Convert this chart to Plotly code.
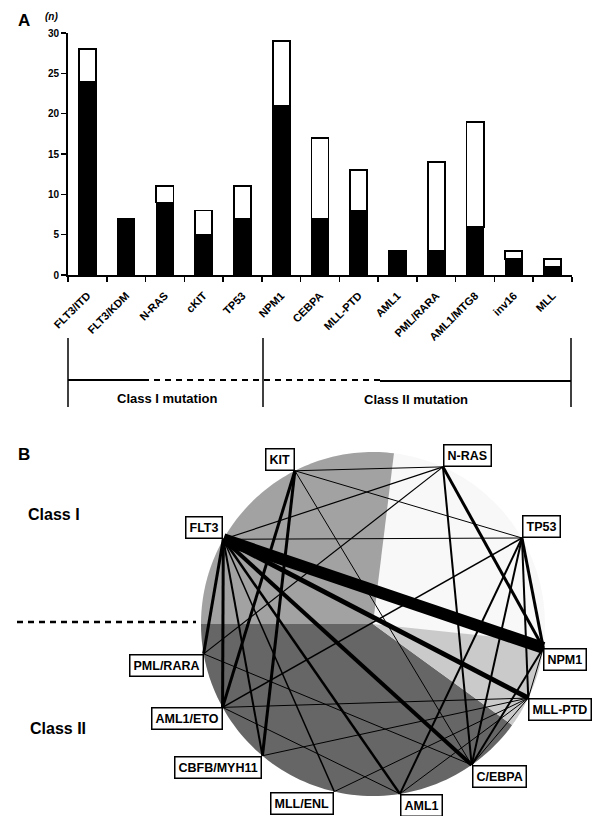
import math
import plotly.graph_objects as go

# ---------------- Panel A data ----------------
categories = ["FLT3/ITD", "FLT3/KDM", "N-RAS", "cKIT", "TP53", "NPM1", "CEBPA",
              "MLL-PTD", "AML1", "PML/RARA", "AML1/MTG8", "inv16", "MLL"]
total_counts = [28, 7, 11, 8, 11, 29, 17, 13, 3, 14, 19, 3, 2]
black_counts = [24, 7, 9, 5, 7, 21, 7, 8, 3, 3, 6, 2, 1]
white_counts = [t - b for t, b in zip(total_counts, black_counts)]
y_ticks = [0, 5, 10, 15, 20, 25, 30]
group_labels = ["Class I mutation", "Class II mutation"]

# ---------------- Panel B data ----------------
node_names = ["KIT", "N-RAS", "TP53", "NPM1", "MLL-PTD", "C/EBPA", "AML1",
              "MLL/ENL", "CBFB/MYH11", "AML1/ETO", "PML/RARA", "FLT3"]
edge_a = ["FLT3", "FLT3", "FLT3", "FLT3", "FLT3", "FLT3", "FLT3", "FLT3", "FLT3", "FLT3",
          "KIT", "KIT", "KIT", "KIT", "KIT",
          "N-RAS", "N-RAS", "N-RAS",
          "TP53", "TP53", "TP53", "TP53", "TP53",
          "NPM1", "NPM1",
          "MLL-PTD", "MLL-PTD", "MLL-PTD", "MLL-PTD", "MLL-PTD",
          "PML/RARA", "AML1/ETO"]
edge_b = ["NPM1", "MLL-PTD", "C/EBPA", "AML1", "MLL/ENL", "CBFB/MYH11", "AML1/ETO", "PML/RARA", "N-RAS", "TP53",
          "N-RAS", "TP53", "AML1/ETO", "CBFB/MYH11", "C/EBPA",
          "NPM1", "C/EBPA", "PML/RARA",
          "NPM1", "MLL-PTD", "C/EBPA", "AML1", "AML1/ETO",
          "MLL-PTD", "C/EBPA",
          "C/EBPA", "AML1", "MLL/ENL", "CBFB/MYH11", "AML1/ETO",
          "C/EBPA", "AML1"]
edge_weight = [12, 5, 4, 2.5, 1.5, 2, 3, 3, 1.2, 1,
               1, 1, 3, 3, 1,
               3, 2, 1.2,
               3, 2, 2, 2, 1.5,
               1, 2,
               1, 1, 1, 1, 1,
               1, 1]

# ---------------- layout helpers (pixel space) ----------------
W, H = 598, 816
node_angle = {"KIT": 117, "N-RAS": 66, "TP53": 30, "NPM1": -8, "MLL-PTD": -25.5,
              "C/EBPA": -55, "AML1": -81, "MLL/ENL": -103, "CBFB/MYH11": -130,
              "AML1/ETO": -151, "PML/RARA": -170, "FLT3": 150.5}
label_anchor = {"KIT": ("right", "bottom"), "N-RAS": ("left", "bottom"),
                "TP53": ("left", "bottom"), "NPM1": ("left", "top"),
                "MLL-PTD": ("left", "top"), "C/EBPA": ("left", "top"),
                "AML1": ("left", "top"), "MLL/ENL": ("right", "top"),
                "CBFB/MYH11": ("right", "top"), "AML1/ETO": ("right", "top"),
                "PML/RARA": ("right", "top"), "FLT3": ("right", "bottom")}
CX, CY, R = 373, 624, 172
pos = {n: (CX + R * math.cos(math.radians(a)), CY - R * math.sin(math.radians(a)))
       for n, a in node_angle.items()}

FONT = "Liberation Sans, Arial, sans-serif"

fig = go.Figure()

# bars
fig.add_bar(x=categories, y=black_counts, width=0.44,
            marker=dict(color="black", line=dict(color="black", width=1.5)),
            showlegend=False, hoverinfo="skip")
fig.add_bar(x=categories, y=white_counts, width=0.44,
            marker=dict(color="white", line=dict(color="black", width=1.8)),
            showlegend=False, hoverinfo="skip")


def sector(a0, a1, n=80):
    pts = []
    for i in range(n + 1):
        a = math.radians(a0 + (a1 - a0) * i / n)
        pts.append((CX + R * math.cos(a), CY - R * math.sin(a)))
    s = f"M {CX},{CY} " + " ".join(f"L {x:.2f},{y:.2f}" for x, y in pts) + " Z"
    return s


shapes = []
shapes.append(dict(type="path", path=sector(0, 360), xref="x2", yref="y2",
                   fillcolor="#f8f8f8", line=dict(width=0), layer="below"))
for a0, a1, col in [(83, 180, "#a2a2a2"), (180, 324, "#666666"), (324, 354, "#cacaca")]:
    shapes.append(dict(type="path", path=sector(a0, a1), xref="x2", yref="y2",
                       fillcolor=col, line=dict(width=0), layer="below"))

# edges
for a, b, w in zip(edge_a, edge_b, edge_weight):
    (x0, y0), (x1, y1) = pos[a], pos[b]
    fig.add_scatter(x=[x0, x1], y=[y0, y1], mode="lines",
                    line=dict(color="black", width=w), xaxis="x2", yaxis="y2",
                    showlegend=False, hoverinfo="skip")

# bracket under bar chart
for x in (68, 263, 571):
    shapes.append(dict(type="line", x0=x, x1=x, y0=338, y1=407, xref="x2", yref="y2",
                       line=dict(color="black", width=1.5)))
shapes.append(dict(type="line", x0=68, x1=143, y0=380, y1=380, xref="x2", yref="y2",
                   line=dict(color="black", width=2)))
shapes.append(dict(type="line", x0=143, x1=380, y0=380, y1=380, xref="x2", yref="y2",
                   line=dict(color="black", width=2, dash="6px,5px")))
shapes.append(dict(type="line", x0=380, x1=571, y0=381, y1=381, xref="x2", yref="y2",
                   line=dict(color="black", width=2)))
shapes.append(dict(type="line", x0=17, x1=196, y0=622, y1=622, xref="x2", yref="y2",
                   line=dict(color="black", width=2.5, dash="6px,5px")))

ann = []
ann.append(dict(text="<b>A</b>", x=16, y=20, xref="x2", yref="y2", showarrow=False,
                xanchor="left", yanchor="middle", font=dict(size=17, family=FONT, color="black")))
ann.append(dict(text="<b><i>(n)</i></b>", x=43, y=16, xref="x2", yref="y2", showarrow=False,
                xanchor="left", yanchor="middle", font=dict(size=10, family=FONT, color="black")))
ann.append(dict(text="<b>B</b>", x=16, y=454, xref="x2", yref="y2", showarrow=False,
                xanchor="left", yanchor="middle", font=dict(size=17, family=FONT, color="black")))
ann.append(dict(text="<b>" + group_labels[0] + "</b>", x=167, y=398, xref="x2", yref="y2",
                showarrow=False, font=dict(size=13, family=FONT, color="black")))
ann.append(dict(text="<b>" + group_labels[1] + "</b>", x=416, y=399, xref="x2", yref="y2",
                showarrow=False, font=dict(size=13, family=FONT, color="black")))
ann.append(dict(text="<b>Class I</b>", x=26, y=514, xref="x2", yref="y2", showarrow=False,
                xanchor="left", font=dict(size=16, family=FONT, color="black")))
ann.append(dict(text="<b>Class II</b>", x=28, y=728, xref="x2", yref="y2", showarrow=False,
                xanchor="left", font=dict(size=16, family=FONT, color="black")))

for n in node_names:
    x, y = pos[n]
    xa, ya = label_anchor[n]
    ann.append(dict(text="<b>" + n + "</b>", x=x, y=y, xref="x2", yref="y2", showarrow=False,
                    xanchor=xa, yanchor=ya, bgcolor="white", bordercolor="black",
                    borderwidth=1.5, borderpad=3,
                    font=dict(size=12.5, family=FONT, color="black")))

fig.update_layout(
    template="none",
    width=W, height=H, margin=dict(l=0, r=0, t=0, b=0, pad=0, autoexpand=False),
    paper_bgcolor="white", plot_bgcolor="rgba(0,0,0,0)",
    barmode="stack", bargap=0.5, showlegend=False,
    shapes=shapes, annotations=ann,
    xaxis=dict(domain=[68 / W, 572 / W], anchor="y", type="category", automargin=False,
               range=[-0.5, 12.5], showline=True, linecolor="black", linewidth=2,
               ticks="outside", tickson="boundaries", ticklen=5, tickwidth=1.5,
               tickcolor="black", tickangle=-45, showgrid=False, zeroline=False,
               ticklabelstandoff=8,
               tickfont=dict(size=11, family=FONT, color="black", weight="bold")),
    yaxis=dict(domain=[1 - 275 / H, 1 - 33 / H], anchor="x", range=[0, 30], automargin=False,
               tickvals=y_ticks, showline=True, linecolor="black", linewidth=2,
               ticks="outside", ticklen=5, tickwidth=1.5, tickcolor="black",
               showgrid=False, zeroline=False,
               tickfont=dict(size=10, family=FONT, color="black", weight="bold")),
    xaxis2=dict(domain=[0, 1], range=[0, W], anchor="y2", visible=False, automargin=False,
                showgrid=False, zeroline=False, fixedrange=True),
    yaxis2=dict(domain=[0, 1], range=[H, 0], anchor="x2", visible=False, automargin=False,
                showgrid=False, zeroline=False, fixedrange=True),
)

fig.write_html("out.html", config={"displayModeBar": False, "staticPlot": True},
               post_script="document.body.style.margin='0px';document.body.style.overflow='hidden';")
